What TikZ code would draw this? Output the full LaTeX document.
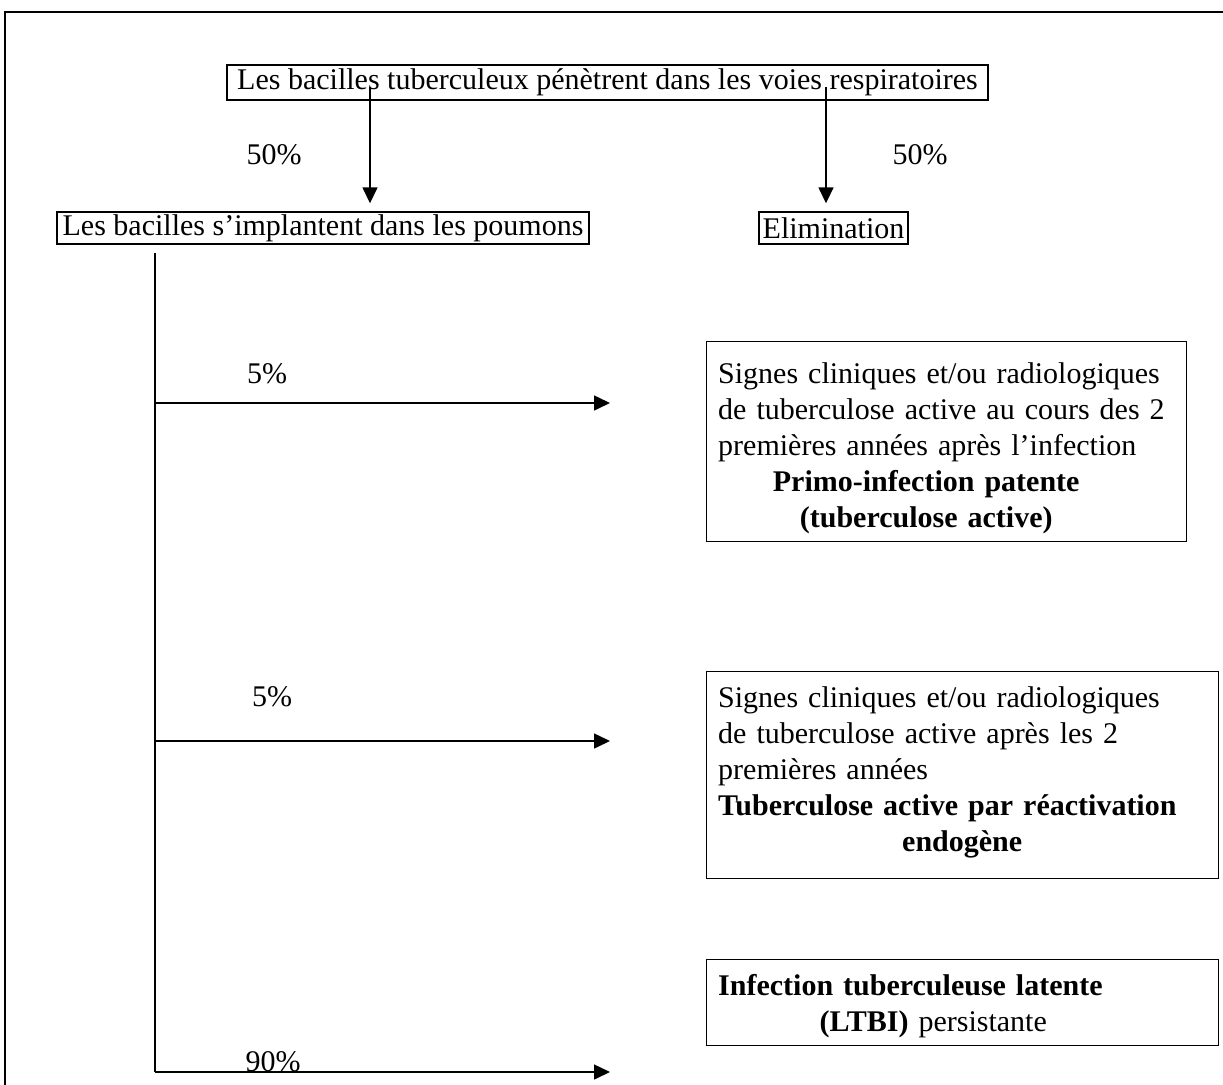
\documentclass[tikz,border=0pt]{standalone}
\usepackage{fontspec}
\setmainfont{Liberation Serif}
\usetikzlibrary{arrows.meta}
\tikzset{
  ln/.style={line width=1.5pt},
  arr/.style={line width=1.5pt, -{Triangle[length=16pt,width=15pt]}},
  tbox/.style={draw, line width=1.4pt, inner sep=0pt, align=center},
  rbox/.style={draw, line width=1.4pt, inner sep=0pt, anchor=north west},
  body/.style={inner sep=0pt, anchor=north west, align=left},
  lbl/.style={inner sep=0pt},
}
\begin{document}
\begin{tikzpicture}[x=1pt,y=-1pt, every node/.append style={font=\fontsize{30}{36}\selectfont}]
\useasboundingbox (0,0) rectangle (1223,1084);
\draw[ln] (5,12) rectangle (1300,1200);

% top level
\node[tbox, minimum width=761pt, minimum height=35pt] (top) at (607.5,82.5) {Les bacilles tuberculeux pénètrent dans les voies respiratoires};
\node[tbox, minimum width=532pt, minimum height=32pt] (impl) at (323,228) {Les bacilles s’implantent dans les poumons};
\node[tbox, minimum width=149pt, minimum height=32pt] (elim) at (833.5,228) {Elimination};

\coordinate (s1) at (370,87);
\coordinate (s2) at (826,87);
\draw[arr, shorten >=8pt] (s1) -- (s1 |- impl.north);
\draw[arr, shorten >=8pt] (s2) -- (s2 |- elim.north);

\node[lbl] (p1) at (274,155) {50\%};
\node[lbl] (p2) at (920,155) {50\%};

% right boxes
\node[rbox, minimum width=480pt, minimum height=200pt] (b1) at (706,341) {};
\node[body, text width=456pt] (t1) at ([xshift=12pt,yshift=-17pt]b1.north west) {\strut Signes cliniques et/ou radiologiques\\ de tuberculose active au cours des 2\\ premières années après l’infection\par
{\bfseries\leftskip=0pt plus 1fil\rightskip=40pt plus 1fil\parfillskip=0pt Primo-infection patente\\ (tuberculose active)\par}};

\node[rbox, minimum width=512pt, minimum height=207pt] (b2) at (706,671) {};
\node[body, text width=488pt] (t2) at ([xshift=12pt,yshift=-11pt]b2.north west) {\strut Signes cliniques et/ou radiologiques\\ de tuberculose active après les 2\\ premières années\\ \textbf{Tuberculose active par réactivation}\par
{\bfseries\leftskip=0pt plus 1fil\rightskip=0pt plus 1fil\parfillskip=0pt endogène\par}};

\node[rbox, minimum width=512pt, minimum height=86pt] (b3) at (706,959) {};
\node[body, text width=488pt] (t3) at ([xshift=12pt,yshift=-11pt]b3.north west) {\strut\textbf{Infection tuberculeuse latente}\par
{\leftskip=0pt plus 1fil\rightskip=58pt plus 1fil\parfillskip=0pt \textbf{(LTBI)} persistante\par}};

% trunk and branches
\coordinate (v0) at (155,253);
\coordinate (j1) at (155,403);
\coordinate (j2) at (155,741);
\coordinate (j3) at (155,1072);
\draw[ln] (v0) -- (j3);
\draw[arr, shorten >=96pt] (j1) -- (j1 -| b1.west);
\draw[arr, shorten >=96pt] (j2) -- (j2 -| b2.west);
\draw[arr, shorten >=96pt] (j3) -- (j3 -| b3.west);

\node[lbl] (p3) at (267,374) {5\%};
\node[lbl] (p4) at (272,697) {5\%};
\node[lbl, anchor=base] (p5) at (273,1071) {90\%};
\end{tikzpicture}
\end{document}
